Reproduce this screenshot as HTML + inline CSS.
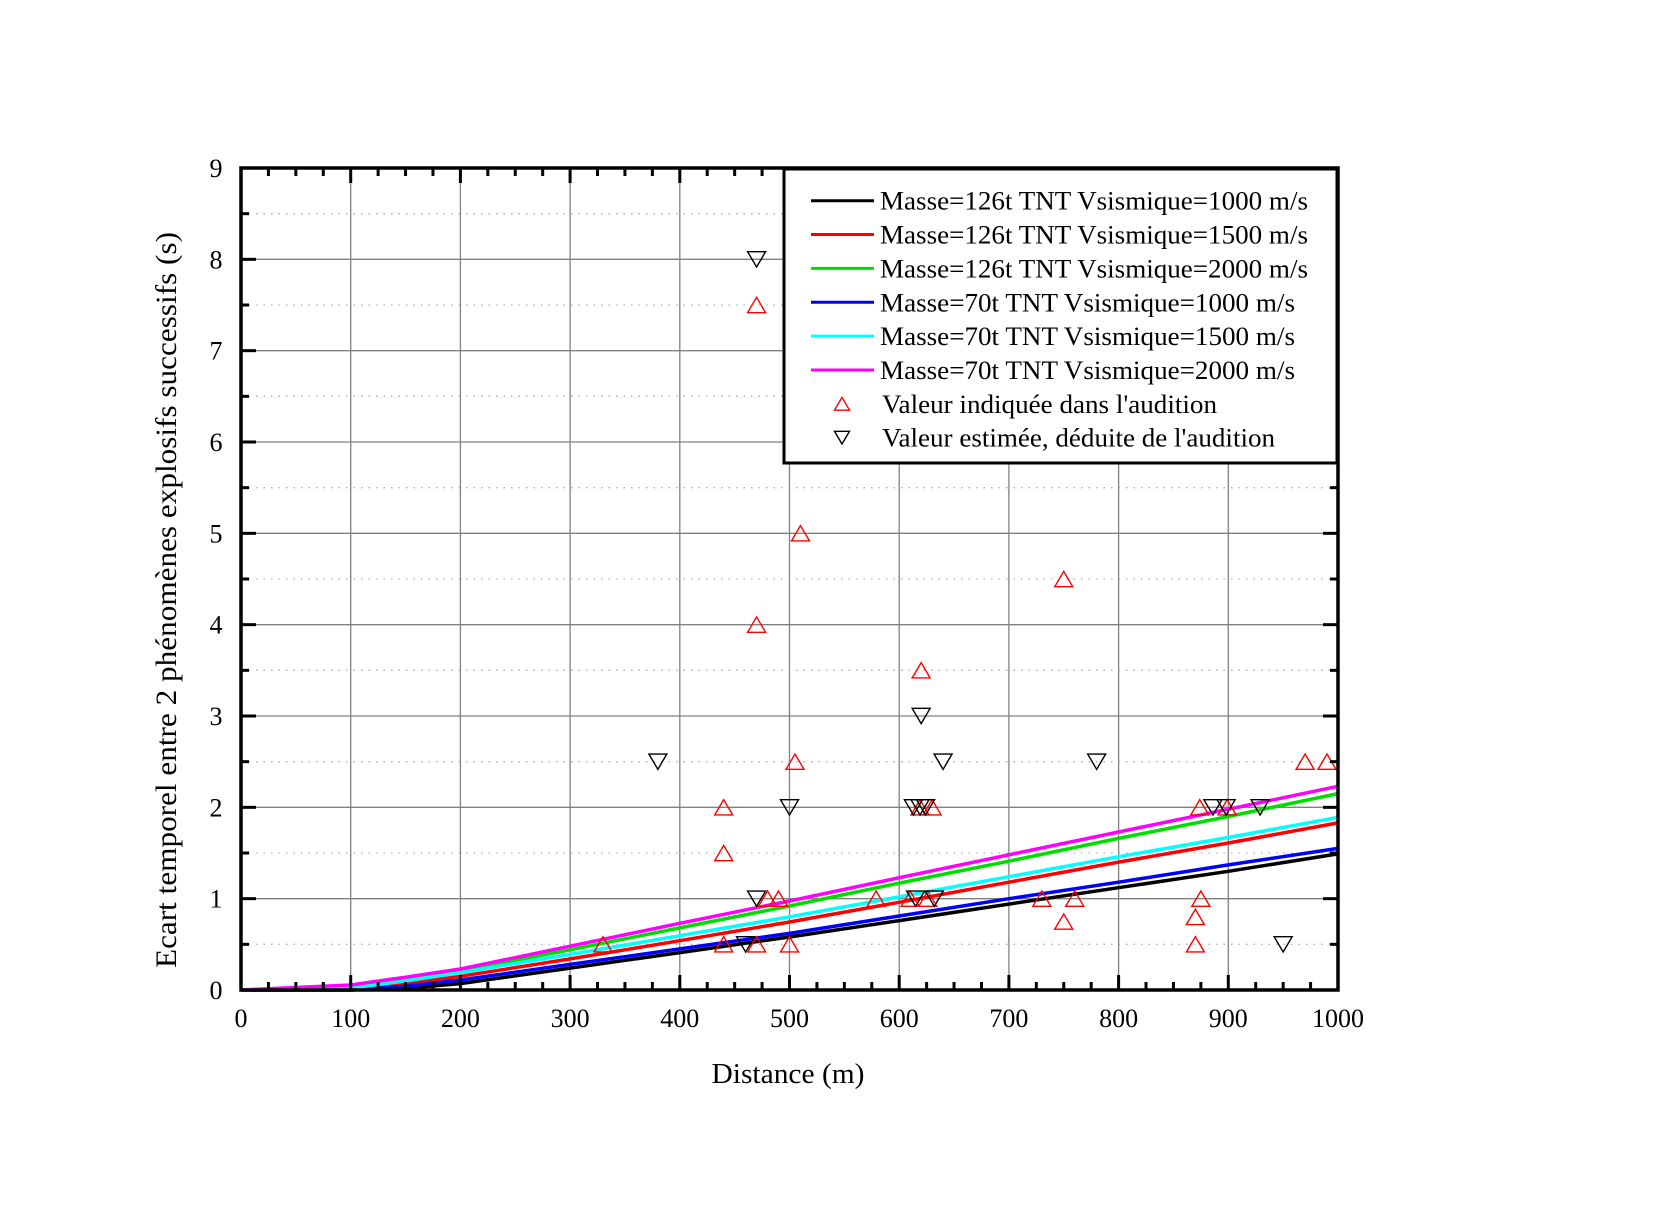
<!DOCTYPE html>
<html><head><meta charset="utf-8"><style>
html,body{margin:0;padding:0;background:#fff;}
svg{display:block;font-family:"Liberation Serif",serif;}
</style></head><body>
<svg id="chart" width="1653" height="1205" viewBox="0 0 1653 1205">
<g id="grid"></g>
<g id="series"></g>
<g id="points"></g>
<g id="axes"></g>
<g id="legend"></g>
<text x="788" y="1083" font-size="29" text-anchor="middle" textLength="153" lengthAdjust="spacingAndGlyphs">Distance (m)</text>
<text transform="translate(176,600) rotate(-90)" x="0" y="0" font-size="30" text-anchor="middle" textLength="736" lengthAdjust="spacingAndGlyphs">Ecart temporel entre 2 phénomènes explosifs successifs (s)</text>
</svg>
<script>
const distances = [0,100,150,200,300,400,500,600,700,800,900,1000];
const m126v1000 = [0,0,0.02,0.07,0.24,0.41,0.58,0.76,0.94,1.12,1.30,1.49];
const m126v1500 = [0,0.01,0.07,0.15,0.34,0.54,0.745,0.96,1.18,1.40,1.61,1.83];
const m126v2000 = [0,0.03,0.11,0.21,0.44,0.68,0.92,1.17,1.41,1.66,1.90,2.15];
const m70v1000 = [0,0,0.04,0.11,0.28,0.45,0.62,0.81,1.00,1.18,1.37,1.55];
const m70v1500 = [0,0.02,0.10,0.19,0.39,0.595,0.80,1.02,1.24,1.46,1.67,1.89];
const m70v2000 = [0,0.055,0.14,0.23,0.48,0.73,0.975,1.23,1.48,1.73,1.98,2.23];
const indiqueX = [330,440,440,440,470,470,470,480,490,500,505,510,579,610,620,619,630,626,730,750,750,760,870,870,875,874,899,970,990];
const indiqueY = [0.5,0.5,1.5,2.0,7.5,4.0,0.5,1.0,1.0,0.5,2.5,5.0,1.0,1.0,3.5,2.0,2.0,1.0,1.0,4.5,0.75,1.0,0.5,0.8,1.0,2.0,2.0,2.5,2.5];
const estimeX = [380,470,500,470,460,613,619,624,620,640,615,632,780,886,898,929,950];
const estimeY = [2.5,8.0,2.0,1.0,0.5,2.0,2.0,2.0,3.0,2.5,1.0,1.0,2.5,2.0,2.0,2.0,0.5];
const xTicks = [0,100,200,300,400,500,600,700,800,900,1000];
const yTicks = [0,1,2,3,4,5,6,7,8,9];

const NS='http://www.w3.org/2000/svg';
const X0=241,X1=1338,Y0=990,Y1=168;
const sx=v=>X0+(v/1000)*(X1-X0);
const sy=v=>Y0-(v/9)*(Y0-Y1);
function mk(tag,attrs,parent){const e=document.createElementNS(NS,tag);for(const k in attrs)e.setAttribute(k,attrs[k]);parent.appendChild(e);return e;}
const grid=document.getElementById('grid'),series=document.getElementById('series'),points=document.getElementById('points'),axes=document.getElementById('axes'),legend=document.getElementById('legend');

// grid
for(let i=1;i<xTicks.length-1;i++){const g=mk('line',{x1:sx(xTicks[i]),x2:sx(xTicks[i]),y1:Y0,y2:Y1,stroke:'#808080','stroke-width':1.3},grid);

}
for(let i=1;i<yTicks.length-1;i++){const g=mk('line',{x1:X0,x2:X1,y1:sy(yTicks[i]),y2:sy(yTicks[i]),stroke:'#808080','stroke-width':1.3},grid);

}
for(let v=0.5;v<9;v+=1){const g=mk('line',{x1:X0,x2:X1,y1:sy(v),y2:sy(v),stroke:'#b0b0b0','stroke-width':1.3,'stroke-dasharray':'1.5 6'},grid);

}

// lines
const seriesDefs=[[m126v1000,'#000000','line-126t-1000'],[m126v1500,'#ff0000','line-126t-1500'],[m126v2000,'#00dd00','line-126t-2000'],[m70v1000,'#0000ff','line-70t-1000'],[m70v1500,'#00ffff','line-70t-1500'],[m70v2000,'#ff00ff','line-70t-2000']];
seriesDefs.forEach(s=>{const d=distances.map((x,i)=>(i?'L':'M')+sx(x).toFixed(1)+' '+sy(s[0][i]).toFixed(1)).join(' ');
const p=mk('path',{d:d,fill:'none',stroke:s[1],'stroke-width':3.5},series);

});

// markers
function tri(cx,cy,up,color,w,parent){const h=w*0.85;const pts=up?[[cx-w/2,cy+h/2],[cx+w/2,cy+h/2],[cx,cy-h/2]]:[[cx-w/2,cy-h/2],[cx+w/2,cy-h/2],[cx,cy+h/2]];
return mk('polygon',{points:pts.map(p=>p.join(',')).join(' '),fill:'none',stroke:color,'stroke-width':1.4},parent);}
indiqueX.forEach((x,i)=>{const t=tri(sx(x),sy(indiqueY[i]),true,'#ff0000',18,points);

});
estimeX.forEach((x,i)=>{const t=tri(sx(x),sy(estimeY[i]),false,'#000000',18,points);

});

// axes frame & ticks
const fr=mk('rect',{x:X0,y:Y1,width:X1-X0,height:Y0-Y1,fill:'none',stroke:'#000','stroke-width':3.5},axes);


for(let v=0;v<=1000;v+=25){const major=v%100===0;const L=major?15:8;
const t1=mk('line',{x1:sx(v),x2:sx(v),y1:Y0,y2:Y0-L,stroke:'#000','stroke-width':3},axes);


const t2=mk('line',{x1:sx(v),x2:sx(v),y1:Y1,y2:Y1+L,stroke:'#000','stroke-width':3},axes);

}
for(let v=0;v<=9;v+=0.5){const major=v%1===0;const L=major?15:8;
const t1=mk('line',{x1:X0,x2:X0+L,y1:sy(v),y2:sy(v),stroke:'#000','stroke-width':3},axes);


const t2=mk('line',{x1:X1,x2:X1-L,y1:sy(v),y2:sy(v),stroke:'#000','stroke-width':3},axes);

}
xTicks.forEach(v=>{const t=mk('text',{x:sx(v),y:1027,'font-size':26,'text-anchor':'middle'},axes);t.textContent=v;

});
yTicks.forEach(v=>{const t=mk('text',{x:216,y:sy(v)+9,'font-size':26,'text-anchor':'middle'},axes);t.textContent=v;

});

// legend
const lb=mk('rect',{x:784,y:169,width:553,height:294,fill:'#fff',stroke:'#000','stroke-width':3},legend);


const legTexts=['Masse=126t TNT Vsismique=1000 m/s','Masse=126t TNT Vsismique=1500 m/s','Masse=126t TNT Vsismique=2000 m/s','Masse=70t TNT Vsismique=1000 m/s','Masse=70t TNT Vsismique=1500 m/s','Masse=70t TNT Vsismique=2000 m/s',"Valeur indiquée dans l'audition","Valeur estimée, déduite de l'audition"];
const legEnds=[1308,1308,1308,1295,1295,1295,1217,1275];
legTexts.forEach((s,i)=>{const y=200.7+i*33.85;
if(i<6){const l=mk('line',{x1:811,x2:874,y1:y,y2:y,stroke:seriesDefs[i][1],'stroke-width':3},legend);

}
else{const t=tri(842,y,i===6,i===6?'#ff0000':'#000000',15,legend);

}
const x0=i<6?880:882;
const tx=mk('text',{x:x0,y:y+9,'font-size':26,textLength:legEnds[i]-x0,lengthAdjust:'spacingAndGlyphs'},legend);tx.textContent=s;

});
</script>
</body></html>
